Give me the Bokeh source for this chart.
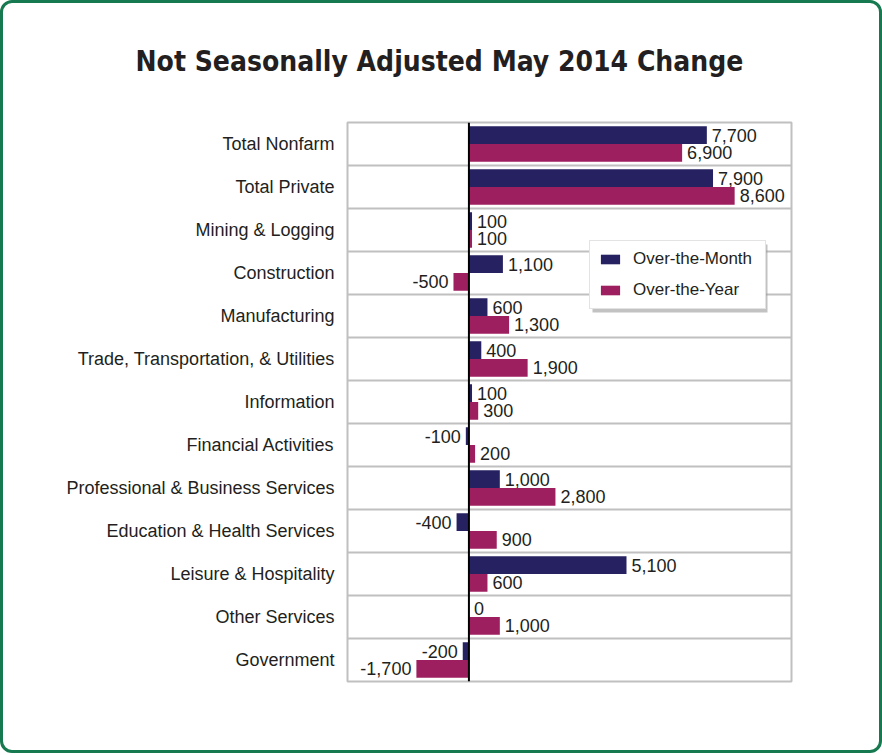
from bokeh.plotting import figure
from bokeh.models import (FactorRange, Range1d, ColumnDataSource, Span,
                          Legend, LegendItem, BoxAnnotation, Grid, FixedTicker,
                          InlineStyleSheet)
from bokeh.transform import dodge
from bokeh.embed import file_html
from bokeh.resources import INLINE
from bokeh.core.properties import value

title_text = "Not Seasonally Adjusted May 2014 Change"
categories = ["Total Nonfarm", "Total Private", "Mining & Logging", "Construction",
              "Manufacturing", "Trade, Transportation, & Utilities", "Information",
              "Financial Activities", "Professional & Business Services",
              "Education & Health Services", "Leisure & Hospitality",
              "Other Services", "Government"]
over_month = [7700, 7900, 100, 1100, 600, 400, 100, -100, 1000, -400, 5100, 0, -200]
over_year = [6900, 8600, 100, -500, 1300, 1900, 300, 200, 2800, 900, 600, 1000, -1700]
series_names = ["Over-the-Month", "Over-the-Year"]
series_colors = ["#262262", "#9e1f5f"]

FONT = "Liberation Sans"
TXT = "#231f20"

p = figure(y_range=FactorRange(*reversed(categories)), x_range=Range1d(-3930, 10440),
           frame_width=444, frame_height=559,
           min_border_left=347, min_border_right=91, min_border_top=122, min_border_bottom=74,
           output_backend="svg", toolbar_location=None, tools="")
p.background_fill_color = "white"
p.border_fill_color = "white"
p.outline_line_color = "#c0c0c0"
p.outline_line_width = 2

p.title.text = title_text
p.title.align = "left"
p.title.offset = -212
p.title.vertical_align = "top"
p.title.standoff = 85
p.title.text_font = "DejaVu Sans Condensed"
p.title.text_font_style = "bold"
p.title.text_font_size = "28px"
p.title.text_color = TXT

p.xaxis.visible = False
p.xgrid.grid_line_color = None
p.ygrid.grid_line_color = None
p.yaxis.axis_line_color = None
p.yaxis.major_tick_line_color = None
p.yaxis.major_tick_out = 0
p.yaxis.minor_tick_line_color = None
p.yaxis.major_label_standoff = 13
p.yaxis.major_label_text_font = FONT
p.yaxis.major_label_text_font_size = "18px"
p.yaxis.major_label_text_color = TXT

sep = Grid(dimension=1, ticker=FixedTicker(ticks=list(range(1, len(categories)))),
           grid_line_color="#c0c0c0", grid_line_width=2)
p.add_layout(sep, "center")

renderers = []
offsets = [0.205, -0.205]
for vals, name, color, off in zip([over_month, over_year], series_names, series_colors, offsets):
    src = ColumnDataSource(dict(
        cat=categories, val=vals,
        label=[f"{v:,}" for v in vals],
        align=["right" if v < 0 else "left" for v in vals],
        xoff=[-5 if v < 0 else 5 for v in vals],
    ))
    r = p.hbar(y=dodge("cat", off, range=p.y_range), right="val", left=0, height=0.41,
               source=src, fill_color=color, line_color=None)
    renderers.append(r)
    p.text(x="val", y=dodge("cat", off, range=p.y_range), text="label", source=src,
           text_align="align", x_offset="xoff", text_baseline="middle",
           text_font=value(FONT), text_font_size="18px", text_color=TXT)

p.add_layout(Span(location=0, dimension="height", line_color="black", line_width=2))

# legend shadow
p.add_layout(BoxAnnotation(left=245, right=420, bottom=369, top=437,
                           left_units="screen", right_units="screen",
                           bottom_units="screen", top_units="screen",
                           fill_color="#999999", fill_alpha=0.6, line_color=None))

legend = Legend(items=[LegendItem(label=n, renderers=[r]) for n, r in zip(series_names, renderers)],
                location=(242, 372))
legend.border_line_color = "#c8c8c8"
legend.border_line_width = 1
legend.background_fill_color = "white"
legend.background_fill_alpha = 1
legend.label_text_font = FONT
legend.label_text_font_size = "17px"
legend.label_text_color = TXT
legend.glyph_width = 24
legend.glyph_height = 12
legend.label_standoff = 11
legend.padding = 8
legend.spacing = 11
legend.margin = 0
legend.label_width = 124
p.add_layout(legend)

# outer green rounded frame drawn over the canvas
p.stylesheets = [InlineStyleSheet(css="""
:host { position: relative; }
:host::after {
  content: "";
  position: absolute;
  left: 0; top: 0; right: 0; bottom: 2px;
  border: 3px solid #17794f;
  border-radius: 12px;
  pointer-events: none;
  box-sizing: border-box;
}
""")]

open("out.html", "w").write(file_html(p, INLINE))
